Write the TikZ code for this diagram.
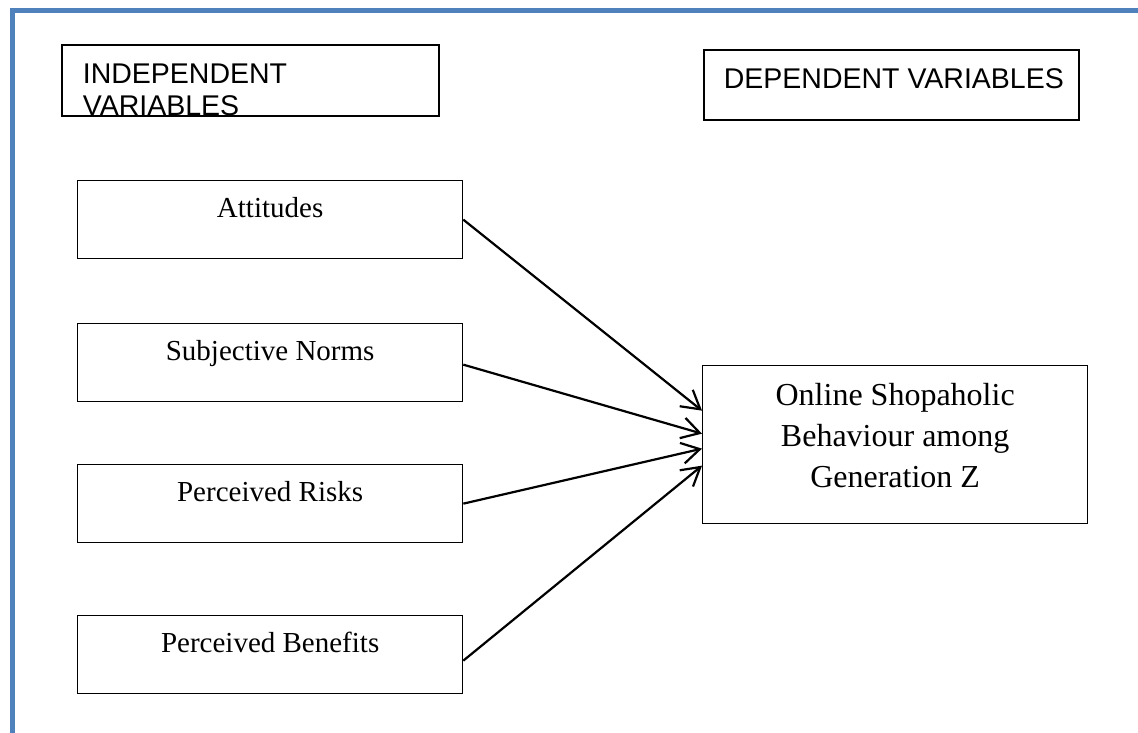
\documentclass[tikz,border=0pt]{standalone}
\usepackage{fontspec}
\setmainfont{Liberation Serif}
\newfontfamily\headfont{Liberation Sans}
\usetikzlibrary{arrows.meta}
\definecolor{frameblue}{RGB}{79,129,189}
\begin{document}
\begin{tikzpicture}[x=1pt,y=1pt,
  varbox/.style={draw, line width=1.3pt, inner sep=0pt, anchor=north west,
    text height=37pt, text depth=41pt, font=\fontsize{29}{34}\selectfont},
  headbox/.style={draw, line width=1.7pt, inner sep=0pt, anchor=north west,
    font=\headfont\fontsize{28.5}{32}\selectfont},
  outbox/.style={draw, line width=1.3pt, inner sep=0pt, anchor=north west,
    font=\fontsize{32}{41}\selectfont},
  link/.style={line width=2.2pt, -{Straight Barb[length=18pt,width=21pt]}}]
\useasboundingbox (0,0) rectangle (1138,-733);

% page frame
\draw[frameblue, line width=5pt] (10,-10.5) -- (1142,-10.5);
\draw[frameblue, line width=5pt] (12.5,-8) -- (12.5,-737);

% headings
\node[headbox, text height=39pt, text depth=32pt] (indep) at (61,-44)
  {\makebox[377pt][l]{\hspace*{21pt}\vtop{\baselineskip=32pt\hbox{INDEPENDENT}\hbox{VARIABLES}}}};
\node[headbox, text height=39pt, text depth=31pt] (dep) at (703,-49)
  {\makebox[375pt][l]{\hspace*{20pt}DEPENDENT VARIABLES}};

% independent variables
\node[varbox] (att) at (77,-180) {\makebox[385pt]{Attitudes}};
\node[varbox] (sn)  at (77,-323) {\makebox[385pt]{Subjective Norms}};
\node[varbox] (pr)  at (77,-464) {\makebox[385pt]{Perceived Risks}};
\node[varbox] (pb)  at (77,-615) {\makebox[385pt]{Perceived Benefits}};

% dependent variable
\node[outbox, text height=40pt, text depth=118pt] (osb) at (702,-365)
  {\parbox[t]{385pt}{\centering Online Shopaholic\\Behaviour among\\Generation Z}};

% relationships
\draw[link] (att.east) -- ([yshift=34pt]osb.west);
\draw[link] ([yshift=-2pt]sn.east) -- ([yshift=11pt]osb.west);
\draw[link] (pr.east) -- ([yshift=-4pt]osb.west);
\draw[link] ([yshift=-6pt]pb.east) -- ([yshift=-21pt]osb.west);
\end{tikzpicture}
\end{document}
